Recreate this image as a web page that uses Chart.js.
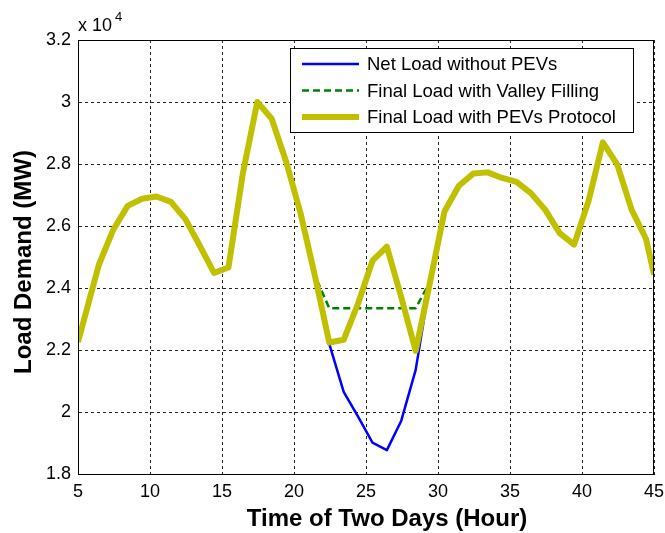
<!DOCTYPE html>
<html>
<head>
<meta charset="utf-8">
<title>Load Demand</title>
<script src="https://cdn.jsdelivr.net/npm/chart.js@4.4.1/dist/chart.umd.min.js"></script>
<style>
  body { margin: 0; background: #fff; }
  #wrap { width: 665px; height: 533px; }
</style>
</head>
<body>
<div id="wrap"><canvas id="load-chart" width="665" height="533"></canvas></div>
<script>
// hourly samples over the two days (MW)
const hours = [5, 6.45, 7.45, 8.45, 9.45, 10.45, 11.45, 12.45, 13.45, 14.45,
  15.45, 16.45, 17.45, 18.45, 19.45, 20.45, 21.45, 22.45, 23.45, 24.45,
  25.45, 26.45, 27.45, 28.45, 29.45, 30.45, 31.45, 32.45, 33.45, 34.45,
  35.45, 36.45, 37.45, 38.45, 39.45, 40.45, 41.45, 42.45, 43.45, 44.45, 45];

const netLoad = [22260, 24750, 25880, 26650, 26880, 26950, 26780, 26230, 25370, 24490,
  24660, 27700, 30000, 29460, 28080, 26420, 24400, 22200, 20650, 19850,
  19010, 18770, 19720, 21360, 24200, 26470, 27300, 27690, 27730, 27550,
  27420, 27060, 26520, 25770, 25400, 26800, 28700, 27980, 26520, 25580, 24430];

const valleyFilling = [22260, 24750, 25880, 26650, 26880, 26950, 26780, 26230, 25370, 24490,
  24660, 27700, 30000, 29460, 28080, 26420, 24400, 23350, 23350, 23350,
  23350, 23350, 23350, 23350, 24200, 26470, 27300, 27690, 27730, 27550,
  27420, 27060, 26520, 25770, 25400, 26800, 28700, 27980, 26520, 25580, 24430];

const pevProtocol = [22260, 24750, 25880, 26650, 26880, 26950, 26780, 26230, 25370, 24490,
  24660, 27700, 30000, 29460, 28080, 26420, 24400, 22240, 22330, 23500,
  24880, 25330, 23700, 21970, 24200, 26470, 27300, 27690, 27730, 27550,
  27420, 27060, 26520, 25770, 25400, 26800, 28700, 27980, 26520, 25580, 24430];

const seriesNames = ['Net Load without PEVs', 'Final Load with Valley Filling', 'Final Load with PEVs Protocol'];
const xTicks = [5, 10, 15, 20, 25, 30, 35, 40, 45];
const yTicks = [18000, 20000, 22000, 24000, 26000, 28000, 30000, 32000];

const FONT = '"Liberation Sans", Arial, Helvetica, sans-serif';
const toPoints = (vals) => vals.map((v, i) => ({ x: hours[i], y: v }));

// box around the axes, axis labels, exponent and legend
const decorations = {
  id: 'decorations',
  afterDraw(chart) {
    const { ctx, chartArea: a } = chart;
    ctx.save();
    ctx.strokeStyle = '#000';
    ctx.lineWidth = 1;
    ctx.setLineDash([]);
    ctx.strokeRect(Math.round(a.left) + 0.5, Math.round(a.top) + 0.5,
      Math.round(a.right - a.left) - 1, Math.round(a.bottom - a.top));

    ctx.fillStyle = '#000';
    // exponent
    ctx.font = '18px ' + FONT;
    ctx.textAlign = 'left';
    ctx.textBaseline = 'alphabetic';
    ctx.fillText('x 10', 78, 31);
    ctx.font = '13px ' + FONT;
    ctx.fillText('4', 115, 21);

    // axis titles
    ctx.font = 'bold 24px ' + FONT;
    ctx.textAlign = 'center';
    ctx.textBaseline = 'middle';
    ctx.fillText('Time of Two Days (Hour)', 387, 519);
    ctx.save();
    ctx.translate(24, 262);
    ctx.rotate(-Math.PI / 2);
    ctx.fillText('Load Demand (MW)', 0, 0);
    ctx.restore();

    // legend
    const box = { x: 290.5, y: 48.5, w: 343, h: 84 };
    ctx.fillStyle = '#fff';
    ctx.fillRect(box.x, box.y, box.w, box.h);
    ctx.strokeRect(box.x, box.y, box.w, box.h);
    const rows = [64, 90.5, 117];
    ctx.font = '18.5px ' + FONT;
    ctx.textAlign = 'left';
    chart.data.datasets.forEach((ds, i) => {
      ctx.strokeStyle = ds.borderColor;
      ctx.lineWidth = ds.borderWidth;
      ctx.setLineDash(ds.borderDash || []);
      ctx.beginPath();
      ctx.moveTo(302, rows[i]);
      ctx.lineTo(359, rows[i]);
      ctx.stroke();
      ctx.fillStyle = '#000';
      ctx.fillText(ds.label, 367, rows[i] + 1);
    });
    ctx.restore();
  }
};

new Chart(document.getElementById('load-chart'), {
  type: 'line',
  data: {
    datasets: [
      {
        label: seriesNames[0],
        data: toPoints(netLoad),
        borderColor: '#0000ff',
        borderWidth: 2.5,
        order: 2
      },
      {
        label: seriesNames[1],
        data: toPoints(valleyFilling),
        borderColor: '#008000',
        borderWidth: 2.5,
        borderDash: [7, 4],
        order: 1
      },
      {
        label: seriesNames[2],
        data: toPoints(pevProtocol),
        borderColor: '#c0c000',
        borderWidth: 6,
        order: 0
      }
    ]
  },
  options: {
    responsive: false,
    animation: false,
    devicePixelRatio: 1,
    layout: { padding: { left: 0, top: 40, right: 11, bottom: 0 } },
    elements: {
      point: { radius: 0 },
      line: { tension: 0, borderJoinStyle: 'round', borderCapStyle: 'butt' }
    },
    plugins: {
      legend: { display: false },
      tooltip: { enabled: false }
    },
    scales: {
      x: {
        type: 'linear',
        min: 5,
        max: 45,
        afterBuildTicks: (s) => { s.ticks = xTicks.map((v) => ({ value: v })); },
        afterFit: (s) => {
          s.height = 59;
          s.paddingLeft = 0;
          s.paddingRight = 0;
        },
        grid: { color: '#222', lineWidth: 1, drawTicks: false },
        border: { display: true, color: '#000', width: 1, dash: [3, 3] },
        ticks: {
          color: '#000',
          padding: 7,
          maxRotation: 0,
          font: { family: FONT, size: 18 }
        }
      },
      y: {
        min: 18000,
        max: 32000,
        afterBuildTicks: (s) => { s.ticks = yTicks.map((v) => ({ value: v })); },
        afterFit: (s) => {
          s.width = 78;
          s.paddingTop = 0;
          s.paddingBottom = 0;
        },
        grid: { color: '#222', lineWidth: 1, drawTicks: false },
        border: { display: true, color: '#000', width: 1, dash: [3, 3] },
        ticks: {
          color: '#000',
          padding: 7,
          font: { family: FONT, size: 18 },
          callback: (v) => String(parseFloat((v / 1e4).toFixed(1)))
        }
      }
    }
  },
  plugins: [decorations]
});
</script>
</body>
</html>
